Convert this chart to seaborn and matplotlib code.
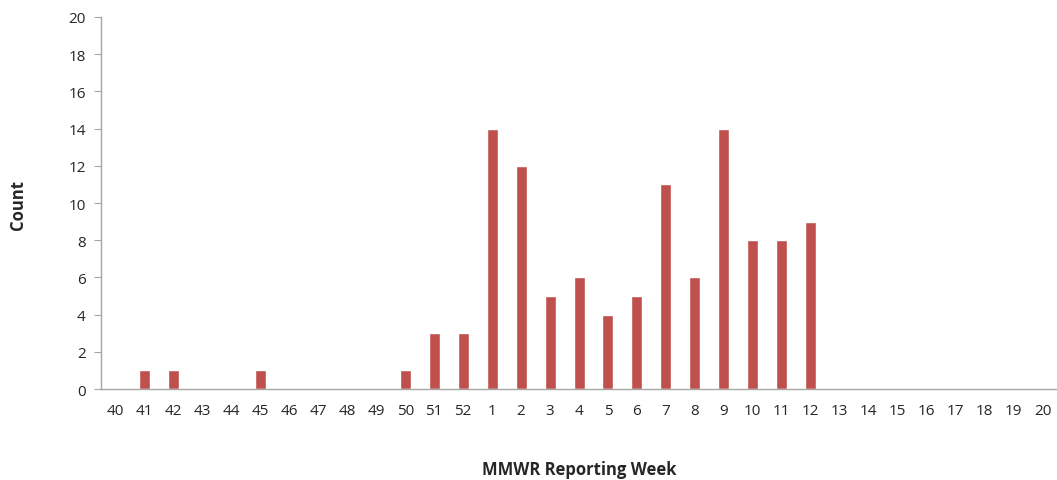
import pandas as pd
import matplotlib
matplotlib.use('Agg')
import matplotlib.pyplot as plt
import seaborn as sns

# Weeks and counts
weeks = [str(w) for w in range(40, 53)] + [str(w) for w in range(1, 21)]
counts = [0, 1, 1, 0, 0, 1, 0, 0, 0, 0, 1, 3, 3,
          14, 12, 5, 6, 4, 5, 11, 6, 14, 8, 8, 9,
          0, 0, 0, 0, 0, 0, 0, 0]

df = pd.DataFrame({'week': weeks, 'count': counts})

sns.set_style('white')
plt.rcParams['font.family'] = ['Open Sans', 'DejaVu Sans']

fig = plt.figure(figsize=(10.57, 4.81), dpi=100)
ax = fig.add_axes([0.0956, 0.189, 0.9044, 0.7736])

sns.barplot(data=df, x='week', y='count', order=weeks, color='#C0504D',
            saturation=1, width=0.38, ax=ax)

ax.set_xlim(-0.5, len(weeks) - 0.5)
ax.set_ylim(0, 20)
ax.set_yticks(range(0, 21, 2))

for s in ['top', 'right']:
    ax.spines[s].set_visible(False)
for s in ['left', 'bottom']:
    ax.spines[s].set_color('#A6A6A6')
    ax.spines[s].set_linewidth(1)

ax.tick_params(axis='y', length=5, color='#A6A6A6', labelsize=11, pad=6, left=True)
ax.tick_params(axis='x', length=0, labelsize=11, pad=10)

ax.set_xlabel('MMWR Reporting Week', fontsize=12, fontweight='bold', labelpad=30)
ax.set_ylabel('')
fig.text(18 / 1057, 1 - 205 / 481, 'Count', rotation=90, fontsize=12,
         fontweight='bold', ha='center', va='center')

fig.savefig('out.png', dpi=100)
